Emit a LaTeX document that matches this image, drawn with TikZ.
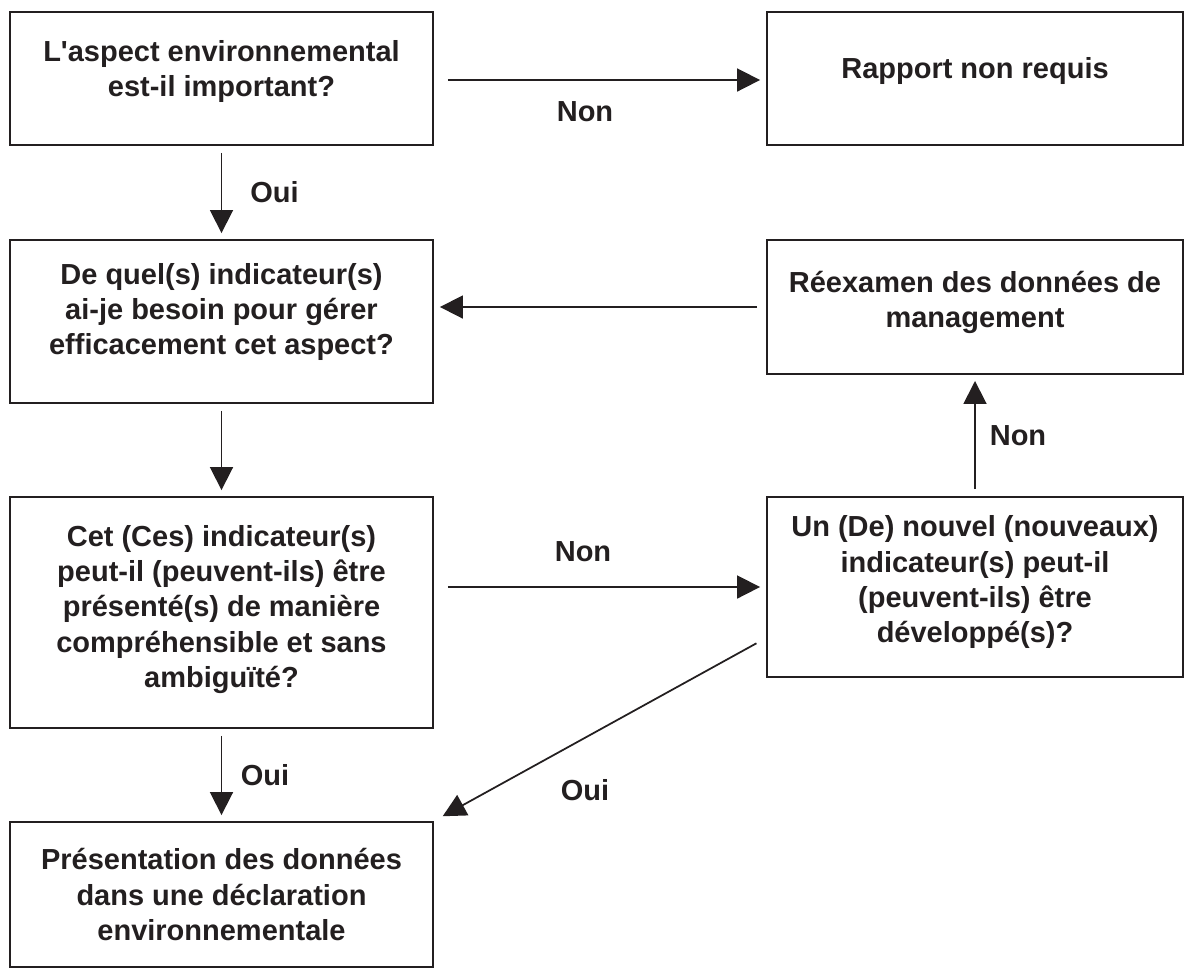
\documentclass[tikz,border=0pt]{standalone}
\usepackage{fontspec}
\setmainfont{Liberation Sans}
\usetikzlibrary{arrows.meta}
\definecolor{ink}{HTML}{231F20}

\begin{document}
\begin{tikzpicture}[x=0.02cm, y=-0.02cm, ink,
  txt/.style={font=\bfseries\fontsize{16.5}{20}\selectfont, text=ink},
  box/.style={txt, draw=ink, line width=1.1pt, align=center, inner sep=0pt, minimum width=8.46cm},
  link/.style={draw=ink, line width=1pt, -{Triangle[length=0.46cm,width=0.46cm]}, shorten <=0.14cm, shorten >=0.12cm}]
\useasboundingbox (0,0) rectangle (1185,971);
\node[box, minimum height=2.66cm, text depth=11pt] (aspect) at (221.5,78.5) {L\textquotesingle aspect environnemental\\est-il important?};
\node[box, minimum width=8.32cm, minimum height=2.66cm, text depth=12pt] (rapport) at (975,78.5) {Rapport non requis};
\node[box, minimum height=3.26cm, text depth=14pt] (quel) at (221.5,321.5) {De quel(s) indicateur(s)\\ai-je besoin pour gérer\\efficacement cet aspect?};
\node[box, minimum width=8.32cm, minimum height=2.68cm, text depth=9pt] (reexamen) at (975,307) {Réexamen des données de\\management};
\node[box, minimum height=4.62cm, text depth=7pt] (cet) at (221.5,612.5) {Cet (Ces) indicateur(s)\\peut-il (peuvent-ils) être\\présenté(s) de manière\\compréhensible et sans\\ambiguïté?};
\node[box, minimum width=8.32cm, minimum height=3.6cm, text depth=9pt] (nouvel) at (975,587) {Un (De) nouvel (nouveaux)\\indicateur(s) peut-il\\(peuvent-ils) être\\développé(s)?};
\node[box, minimum height=2.9cm] (presentation) at (221.5,894.5) {Présentation des données\\dans une déclaration\\environnementale};
\coordinate (fout) at ([yshift=0.8cm]nouvel.south west);

\draw[link, shorten <=0.28cm] ([yshift=-0.03cm]aspect.east) -- ([yshift=-0.03cm]rapport.west) node[txt, midway, xshift=-0.3cm, yshift=-0.64cm] {Non};
\draw[link] (aspect.south) -- (quel.north) node[txt, midway, xshift=1.06cm] {Oui};
\draw[link, shorten <=0.18cm] (reexamen.west) -- (reexamen.west -| quel.east);
\draw[link] (quel.south) -- (cet.north);
\draw[link, shorten <=0.28cm] (nouvel.west -| cet.east) -- (nouvel.west) node[txt, midway, xshift=-0.34cm, yshift=0.7cm] {Non};
\draw[link] (nouvel.north) -- (reexamen.south) node[txt, midway, xshift=0.86cm] {Non};
\draw[link] (cet.south) -- (presentation.north) node[txt, midway, xshift=0.87cm] {Oui};
\draw[link, shorten <=0.22cm, shorten >=0.2cm] (fout) -- (presentation.north east) node[txt, midway, xshift=-0.3cm, yshift=-1.21cm] {Oui};
\end{tikzpicture}
\end{document}
